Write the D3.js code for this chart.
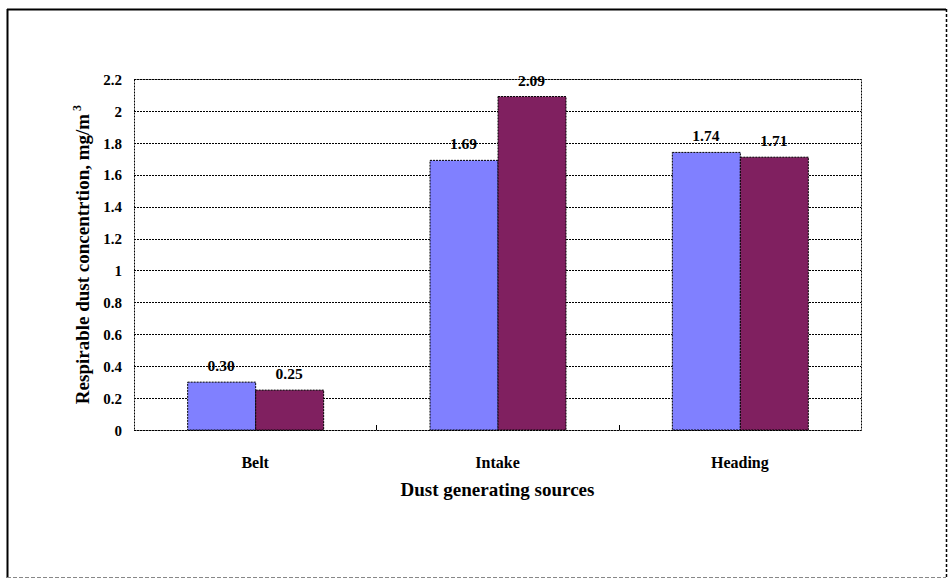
<!DOCTYPE html>
<html><head><meta charset="utf-8">
<script src="https://cdn.jsdelivr.net/npm/d3@7"></script>
<style>body{margin:0;background:#fff}svg{display:block}text{font-family:"Liberation Serif","Times New Roman",serif;font-weight:bold;fill:#000}</style>
</head><body><svg id="c" width="948" height="579"></svg>
<script>
const categories = ["Belt", "Intake", "Heading"];
const seriesA = [0.30, 1.69, 1.74];
const seriesB = [0.25, 2.09, 1.71];
const yTicks = [0, 0.2, 0.4, 0.6, 0.8, 1, 1.2, 1.4, 1.6, 1.8, 2, 2.2];
const colors = ["#8080FF", "#802060"];

const svg = d3.select("#c");
// outer frame
svg.append("line").attr("x1",7).attr("y1",9.5).attr("x2",946).attr("y2",9.5).attr("stroke","#000").attr("stroke-width",2);
svg.append("line").attr("x1",7.5).attr("y1",9).attr("x2",7.5).attr("y2",578).attr("stroke","#000").attr("stroke-width",2);
svg.append("line").attr("x1",946.5).attr("y1",9).attr("x2",946.5).attr("y2",578).attr("stroke","#000").attr("stroke-width",1.5).attr("stroke-dasharray","3,2");
svg.append("line").attr("x1",7).attr("y1",577.5).attr("x2",946).attr("y2",577.5).attr("stroke","#888").attr("stroke-width",1).attr("stroke-dasharray","4,2");

const L=134, R=861, T=79, B=430;
const x = d3.scaleBand().domain(categories).range([L,R]);
const y = d3.scaleLinear().domain([0,2.2]).range([B,T]);
const inner = d3.scaleBand().domain([0,1]).range([0,136]);

// gridlines
svg.append("g").selectAll("line").data(yTicks).join("line")
  .attr("x1",L).attr("x2",R).attr("y1",d=>Math.round(y(d))+0.5).attr("y2",d=>Math.round(y(d))+0.5)
  .attr("stroke","#000").attr("stroke-width",1).attr("stroke-dasharray","2,1");
// plot frame
svg.append("rect").attr("x",L+0.5).attr("y",T+0.5).attr("width",R-L).attr("height",B-T)
  .attr("fill","none").attr("stroke","#000").attr("stroke-dasharray","2,1");

// bars
const groups = svg.append("g").selectAll("g").data(categories).join("g")
  .attr("transform",d=>`translate(${x(d)+x.bandwidth()/2-68},0)`);
[seriesA, seriesB].forEach((s,si)=>{
  groups.append("rect")
    .attr("x",inner(si)+0.5).attr("width",inner.bandwidth())
    .attr("y",(d,i)=>y(s[i])).attr("height",(d,i)=>B-y(s[i]))
    .attr("fill",colors[si]).attr("stroke","#000").attr("stroke-width",1).attr("stroke-dasharray","2,1");
  groups.append("text")
    .attr("x",inner(si)+inner.bandwidth()/2).attr("y",(d,i)=>y(s[i])-11)
    .attr("text-anchor","middle").attr("font-size",15.5).text((d,i)=>s[i].toFixed(2));
});

// y axis labels
const yAxis = d3.axisLeft(y).tickValues(yTicks).tickSize(0).tickPadding(12).tickFormat(d3.format("~g"));
const ya = svg.append("g").attr("transform",`translate(${L},0)`).call(yAxis).attr("font-family",null);
ya.select(".domain").remove();
ya.selectAll("text").attr("font-size",15).attr("dy","0.35em");

// x axis
const xa = svg.append("g").attr("transform",`translate(0,${B})`).call(d3.axisBottom(x).tickSize(0).tickPadding(27)).attr("font-family",null);
xa.select(".domain").remove();
xa.selectAll("text").attr("font-size",16);
// category separators (inner ticks)
svg.append("g").selectAll("line").data(categories.slice(1)).join("line")
  .attr("x1",d=>Math.round(x(d))+0.5).attr("x2",d=>Math.round(x(d))+0.5).attr("y1",B).attr("y2",B-5).attr("stroke","#000");

// titles
svg.append("text").attr("x",(L+R)/2).attr("y",496).attr("text-anchor","middle").attr("font-size",19).text("Dust generating sources");
const yt = svg.append("text").attr("transform",`translate(89,${(T+B)/2}) rotate(-90)`).attr("text-anchor","middle").attr("font-size",19);
yt.append("tspan").text("Respirable dust concentrtion, mg/m");
yt.append("tspan").attr("dy",-8).attr("dx",3).attr("font-size",12).text("3");
</script></body></html>
